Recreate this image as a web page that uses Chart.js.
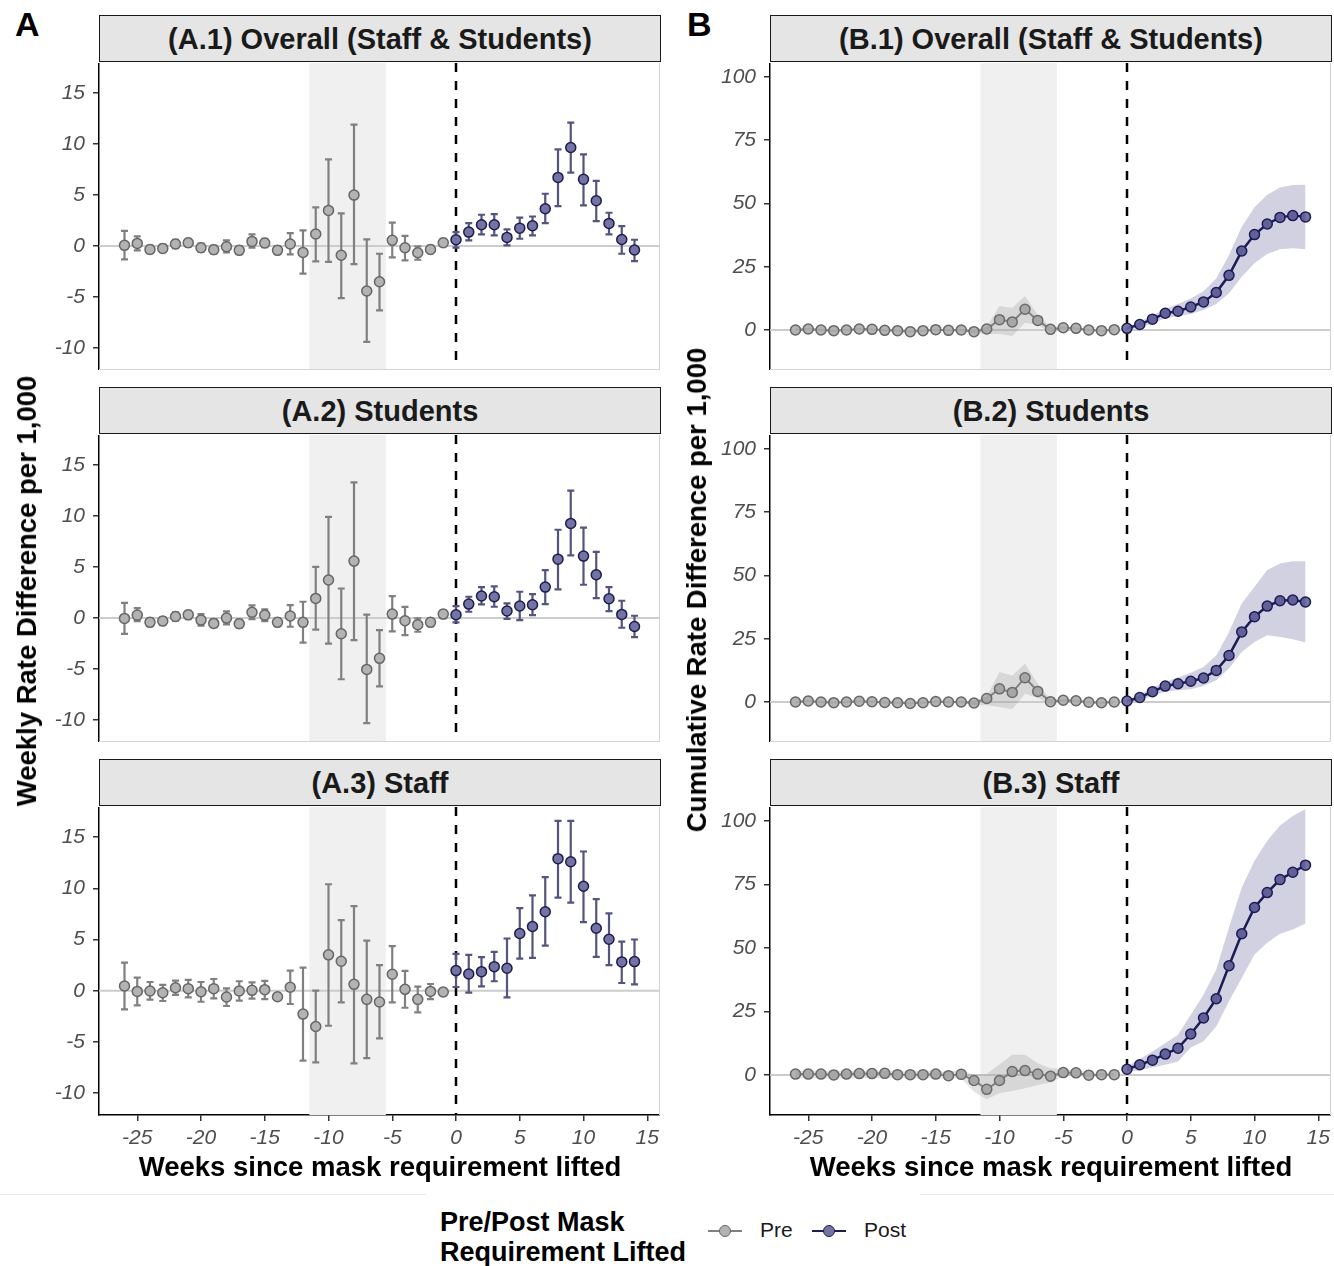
<!DOCTYPE html>
<html>
<head>
<meta charset="utf-8">
<script src="https://cdn.jsdelivr.net/npm/chart.js@4.4.1/dist/chart.umd.min.js"></script>
<style>
  body { margin: 0; background: #fff; font-family: "Liberation Sans", Arial, sans-serif; color: #000; }
  #fig { position: relative; width: 1334px; height: 1266px; overflow: hidden; background: #fff; }
  #fig canvas { position: absolute; }
  .txt { position: absolute; white-space: nowrap; }
  .strip { position: absolute; box-sizing: border-box; border: 1.5px solid #1a1a1a; background: #e5e5e5;
           font-weight: bold; font-size: 29px; text-align: center; line-height: 46px; color: #1a1a1a; }
  .letter { font-weight: bold; font-size: 34px; }
  .axtitle { font-weight: bold; font-size: 27.5px; transform: translate(-50%, -50%); }
  .ytitle { font-weight: bold; font-size: 27.5px; transform: translate(-50%, -50%) rotate(-90deg); }
  .key-line { position: absolute; height: 2px; width: 34px; }
  .key-dot { position: absolute; width: 10px; height: 10px; border-radius: 50%; box-sizing: content-box; }
</style>
</head>
<body>
<div id="fig"></div>
<script>
// weeks since the mask requirement was lifted (Pre = negative weeks, Post = 0 and later)
const weeks = [-26, -25, -24, -23, -22, -21, -20, -19, -18, -17, -16, -15, -14, -13, -12, -11, -10, -9, -8, -7, -6, -5, -4, -3, -2, -1,
               0, 1, 2, 3, 4, 5, 6, 7, 8, 9, 10, 11, 12, 13, 14];
const xTicks = [-25, -20, -15, -10, -5, 0, 5, 10, 15];
const weeklyTicks = [-10, -5, 0, 5, 10, 15];
const cumTicks = [0, 25, 50, 75, 100];
const shadeWeeks = [-11.5, -5.5];
const groupNames = ['Pre', 'Post'];

// (A) weekly rate difference per 1,000 : estimate, lower and upper CI
const a1Est = [0.07, 0.26, -0.33, -0.23, 0.2, 0.33, -0.16, -0.36, -0.07, -0.42, 0.46, 0.3, -0.42, 0.2, -0.62, 1.18, 3.5, -0.9, 5.0, -4.4, -3.5, 0.56, -0.16, -0.65, -0.33, 0.33,
               0.62, 1.37, 2.09, 2.09, 0.85, 1.76, 1.99, 3.66, 6.73, 9.67, 6.54, 4.44, 2.22, 0.65, -0.39];
const a1Lo = [-1.3, -0.42, -0.7, -0.6, -0.2, -0.05, -0.55, -0.75, -0.62, -0.8, -0.16, -0.1, -0.8, -0.82, -2.7, -1.5, -1.54, -5.1, -1.76, -9.4, -6.3, -1.1, -1.4, -1.34, -0.7, 0.0,
              -0.16, 0.56, 1.14, 1.05, 0.07, 0.72, 1.05, 2.25, 3.92, 7.2, 4.0, 2.45, 1.14, -0.75, -1.47];
const a1Hi = [1.5, 0.95, 0.05, 0.15, 0.6, 0.7, 0.25, 0.05, 0.56, 0.0, 1.14, 0.7, 0.0, 1.27, 1.54, 3.8, 8.5, 3.2, 11.9, 0.65, -0.75, 2.3, 1.0, -0.03, 0.05, 0.7,
              1.37, 2.25, 3.07, 3.14, 1.63, 2.78, 2.9, 5.13, 9.48, 12.1, 9.0, 6.4, 3.27, 1.96, 0.62];

const a2Est = [-0.03, 0.29, -0.42, -0.29, 0.16, 0.33, -0.2, -0.52, 0, -0.56, 0.56, 0.29, -0.42, 0.2, -0.42, 1.93, 3.73, -1.54, 5.59, -5.03, -3.95, 0.39, -0.26, -0.65, -0.42, 0.39,
               0.33, 1.37, 2.16, 2.09, 0.69, 1.18, 1.31, 3.04, 5.78, 9.28, 6.08, 4.25, 1.9, 0.36, -0.82];
const a2Lo = [-1.54, -0.29, -0.8, -0.7, -0.25, -0.1, -0.75, -0.9, -0.62, -0.95, -0.1, -0.29, -0.8, -0.85, -2.4, -1.14, -2.5, -6.0, -2.16, -10.3, -6.7, -1.3, -1.67, -1.34, -0.8, 0.0,
              -0.42, 0.62, 1.34, 1.11, -0.07, -0.2, 0.29, 1.37, 2.81, 6.14, 3.27, 1.96, 0.69, -0.95, -1.86];
const a2Hi = [1.5, 0.98, -0.05, 0.1, 0.55, 0.7, 0.39, -0.1, 0.65, -0.15, 1.24, 0.85, -0.05, 1.27, 1.6, 5.03, 9.93, 2.9, 13.3, 0.33, -1.18, 2.16, 1.1, -0.03, -0.05, 0.75,
              1.18, 2.09, 3.04, 3.1, 1.44, 2.58, 2.35, 4.7, 8.66, 12.5, 8.86, 6.5, 3.04, 1.7, 0.23];

const a3Est = [0.46, -0.07, -0.03, -0.2, 0.29, 0.2, -0.1, 0.2, -0.62, -0.03, 0.03, 0.1, -0.59, 0.33, -2.29, -3.5, 3.5, 2.88, 0.62, -0.85, -1.11, 1.6, 0.13, -0.85, -0.07, -0.13,
               1.96, 1.63, 1.86, 2.35, 2.19, 5.59, 6.27, 7.71, 12.9, 12.6, 10.2, 6.1, 5.03, 2.81, 2.84];
const a3Lo = [-1.83, -1.44, -0.88, -1.01, -0.42, -0.65, -1.08, -0.75, -1.5, -0.98, -0.78, -0.82, -0.9, -1.3, -6.83, -7.0, -3.43, -1.14, -7.1, -6.6, -4.67, -1.14, -1.67, -2.12, -0.82, -0.45,
              0.36, -0.2, 0.42, 0.92, -0.65, 3.14, 3.2, 4.4, 9.1, 8.6, 6.7, 3.3, 2.5, 0.75, 0.62];
const a3Hi = [2.75, 1.27, 0.85, 0.56, 0.98, 1.05, 0.85, 1.14, 0.23, 0.92, 0.82, 0.95, -0.25, 1.96, 2.25, 0.0, 10.4, 6.9, 8.27, 4.9, 2.5, 4.35, 1.93, 0.39, 0.65, 0.2,
              3.6, 3.5, 3.27, 3.8, 5.1, 8.07, 9.31, 11.1, 16.6, 16.6, 13.6, 8.95, 7.55, 4.8, 5.0];

// (B) cumulative rate difference per 1,000 : estimate, lower and upper band
const b1Est = [0, 0.4, 0, -0.26, 0, 0.4, 0.26, -0.13, -0.26, -0.66, -0.26, 0.13, -0.13, 0, -0.66, 0.4, 4.1, 3.2, 8.2, 3.8, 0.26, 0.9, 0.66, 0, -0.26, 0.13,
               0.66, 2.2, 4.3, 6.6, 7.4, 9.1, 11.1, 14.8, 21.6, 31.2, 37.7, 41.9, 44.5, 45.2, 44.7];
const b1Lo = [-0.4, 0, -0.4, -0.6, -0.4, 0, -0.1, -0.5, -0.6, -1.0, -0.6, -0.3, -0.5, -0.4, -1.3, -1.6, -1.6, -2.4, 2.9, 2.0, -0.8, 0.4, 0.2, -0.4, -0.6, -0.3,
              0, 1.0, 2.6, 4.6, 5.5, 6.3, 7.9, 10.3, 14.5, 21.0, 26.4, 30.0, 31.9, 32.3, 31.9];
const b1Hi = [0.4, 0.8, 0.4, 0.1, 0.4, 0.8, 0.6, 0.3, 0.1, -0.3, 0.1, 0.5, 0.3, 0.4, 0.1, 1.3, 9.5, 8.8, 13.4, 5.9, 1.2, 1.4, 1.1, 0.4, 0.1, 0.5,
              1.3, 3.3, 5.7, 8.3, 10.3, 12.5, 15.3, 20.4, 29.6, 40.8, 48.5, 53.4, 56.3, 57.3, 57.4];

const b2Est = [0, 0.4, 0, -0.26, 0, 0.3, 0.1, -0.2, -0.3, -0.6, -0.3, 0.2, 0, 0, -0.4, 1.4, 5.2, 3.8, 9.6, 4.2, 0.13, 0.7, 0.5, -0.1, -0.3, 0,
               0.4, 1.8, 4.1, 6.3, 7.2, 8.2, 9.5, 12.5, 18.4, 27.7, 33.7, 37.9, 40, 40.3, 39.5];
const b2Lo = [-0.4, 0, -0.4, -0.6, -0.4, -0.1, -0.3, -0.6, -0.7, -1.0, -0.7, -0.2, -0.4, -0.4, -1.2, -1.3, -2.0, -2.9, 3.3, 1.6, -0.8, 0.2, 0.1, -0.5, -0.7, -0.4,
              0, 0.66, 2.4, 4.2, 4.6, 5.0, 6.3, 8.6, 13.2, 19.8, 23.7, 26.4, 25.7, 24.8, 23.5];
const b2Hi = [0.4, 0.8, 0.4, 0.1, 0.4, 0.7, 0.5, 0.2, 0.1, -0.2, 0.1, 0.6, 0.4, 0.4, 0.4, 2.2, 11.9, 10.5, 15.1, 7.2, 1.0, 1.2, 0.9, 0.3, 0.1, 0.4,
              0.8, 2.9, 5.7, 7.9, 9.7, 11.6, 13.8, 18.4, 27.7, 38.9, 45.5, 52.2, 54.7, 55.6, 55.6];

const b3Est = [0.3, 0.3, 0.3, 0, 0.3, 0.5, 0.5, 0.6, 0.1, 0.1, 0.1, 0.3, -0.3, 0.2, -2.2, -5.7, -2.2, 1.3, 1.7, 0.3, -0.5, 0.9, 0.8, -0.1, 0.1, 0.1,
               2.2, 4.0, 5.8, 8.2, 10.5, 16.1, 22.4, 30.0, 43.0, 55.6, 65.9, 71.8, 76.9, 79.8, 82.6];
const b3Lo = [-1.3, -1.3, -1.3, -1.3, -1.3, -1.2, -1.2, -1.2, -1.3, -1.3, -1.3, -1.3, -1.4, -1.3, -6.6, -9.6, -7.2, -6.3, -5.3, -4.0, -3.0, -0.3, -0.4, -0.8, -0.6, -0.5,
              1.3, 1.8, 2.9, 4.0, 5.3, 10.8, 13.2, 19.1, 29.0, 38.2, 47.4, 52.0, 55.6, 57.3, 59.6];
const b3Hi = [1.5, 1.5, 1.5, 1.5, 1.5, 1.6, 1.6, 1.7, 1.5, 1.5, 1.5, 1.5, 1.2, 2.0, 0, 0.3, 4.2, 7.9, 7.9, 4.6, 2.6, 2.2, 2.0, 0.8, 0.8, 0.8,
              3.3, 6.3, 9.2, 12.5, 15.8, 23.7, 31.6, 41.5, 58.0, 73.8, 84.3, 92.2, 98.2, 102, 104.7];

const PRE = { fill: '#b3b3b3', stroke: '#666666', bar: '#808080', line: '#808080', band: 'rgba(128,128,128,0.22)' };
const POST = { fill: '#7474a3', stroke: '#1c1c52', bar: '#54547f', line: '#1c1c52', band: 'rgba(25,25,112,0.2)' };

Chart.defaults.font.family = '"Liberation Sans", Arial, sans-serif';

const fig = document.getElementById('fig');
const AXIS_W = 60, XAXIS_H = 40, PLOT_W = 561;
const colLeft = [99, 770];
const rows = [{ top: 63, h: 307 }, { top: 435, h: 307 }, { top: 807, h: 308 }];

const panels = [
  { col: 0, row: 0, title: '(A.1) Overall (Staff & Students)', est: a1Est, lo: a1Lo, hi: a1Hi, cum: false },
  { col: 0, row: 1, title: '(A.2) Students', est: a2Est, lo: a2Lo, hi: a2Hi, cum: false },
  { col: 0, row: 2, title: '(A.3) Staff', est: a3Est, lo: a3Lo, hi: a3Hi, cum: false },
  { col: 1, row: 0, title: '(B.1) Overall (Staff & Students)', est: b1Est, lo: b1Lo, hi: b1Hi, cum: true },
  { col: 1, row: 1, title: '(B.2) Students', est: b2Est, lo: b2Lo, hi: b2Hi, cum: true },
  { col: 1, row: 2, title: '(B.3) Staff', est: b3Est, lo: b3Lo, hi: b3Hi, cum: true }
];

function addText(text, cls, left, top) {
  const d = document.createElement('div');
  d.className = 'txt ' + cls;
  d.style.left = left + 'px';
  d.style.top = top + 'px';
  d.textContent = text;
  fig.appendChild(d);
  return d;
}

// shaded weeks, zero line, dashed line at 0 and (for A) error bars
const panelDecor = {
  id: 'panelDecor',
  beforeDatasetsDraw(chart, args, opts) {
    const { ctx, chartArea: a, scales: { x, y } } = chart;
    ctx.save();
    ctx.beginPath();
    ctx.rect(a.left, a.top, a.right - a.left, a.bottom - a.top);
    ctx.clip();

    const s1 = x.getPixelForValue(shadeWeeks[0]), s2 = x.getPixelForValue(shadeWeeks[1]);
    ctx.fillStyle = '#f0f0f0';
    ctx.fillRect(s1, a.top, s2 - s1, a.bottom - a.top);

    const y0 = y.getPixelForValue(0);
    ctx.strokeStyle = '#cccccc';
    ctx.lineWidth = 2;
    ctx.beginPath(); ctx.moveTo(a.left, y0); ctx.lineTo(a.right, y0); ctx.stroke();

    const x0 = x.getPixelForValue(0);
    ctx.strokeStyle = '#000';
    ctx.lineWidth = 2.5;
    ctx.setLineDash([9, 9]);
    ctx.beginPath(); ctx.moveTo(x0, a.top); ctx.lineTo(x0, a.bottom); ctx.stroke();
    ctx.setLineDash([]);

    if (opts.bars) {
      ctx.lineWidth = 2.2;
      weeks.forEach((w, i) => {
        const px = x.getPixelForValue(w);
        const pl = y.getPixelForValue(opts.lo[i]), ph = y.getPixelForValue(opts.hi[i]);
        ctx.strokeStyle = w < 0 ? PRE.bar : POST.bar;
        ctx.beginPath();
        ctx.moveTo(px, pl); ctx.lineTo(px, ph);
        ctx.moveTo(px - 3.5, pl); ctx.lineTo(px + 3.5, pl);
        ctx.moveTo(px - 3.5, ph); ctx.lineTo(px + 3.5, ph);
        ctx.stroke();
      });
    }
    ctx.restore();
  },
  afterDraw(chart, args, opts) {
    const { ctx, chartArea: a } = chart;
    ctx.save();
    ctx.strokeStyle = '#d4d4d4';
    ctx.lineWidth = 1;
    ctx.beginPath();
    ctx.moveTo(a.right - 0.5, a.top); ctx.lineTo(a.right - 0.5, a.bottom);
    if (!opts.bottomRow) { ctx.moveTo(a.left, a.bottom - 0.5); ctx.lineTo(a.right, a.bottom - 0.5); }
    ctx.stroke();
    ctx.restore();
  }
};

function points(arr, pre) {
  const out = [];
  weeks.forEach((w, i) => { if ((w < 0) === pre) out.push({ x: w, y: arr[i] }); });
  return out;
}

function makePanel(p) {
  const row = rows[p.row];
  const bottomRow = p.row === 2;
  const w = AXIS_W + PLOT_W, h = row.h + (bottomRow ? XAXIS_H : 0);
  const cv = document.createElement('canvas');
  cv.width = w; cv.height = h;
  cv.style.left = (colLeft[p.col] - AXIS_W) + 'px';
  cv.style.top = row.top + 'px';
  cv.style.width = w + 'px'; cv.style.height = h + 'px';
  fig.appendChild(cv);

  const strip = document.createElement('div');
  strip.className = 'strip';
  strip.style.left = colLeft[p.col] + 'px';
  strip.style.top = (row.top - 48) + 'px';
  strip.style.width = (PLOT_W + 1) + 'px';
  strip.style.height = '47px';
  strip.textContent = p.title;
  fig.appendChild(strip);

  const marker = (c) => ({
    pointRadius: 5, pointBorderWidth: 1.5, pointBackgroundColor: c.fill, pointBorderColor: c.stroke
  });

  const datasets = [];
  if (p.cum) {
    [true, false].forEach(pre => {
      const c = pre ? PRE : POST;
      datasets.push({ data: points(p.lo, pre), pointRadius: 0, borderWidth: 0, borderColor: 'transparent', fill: false });
      datasets.push({ data: points(p.hi, pre), pointRadius: 0, borderWidth: 0, borderColor: 'transparent', fill: '-1', backgroundColor: c.band });
    });
  }
  [true, false].forEach(pre => {
    const c = pre ? PRE : POST;
    datasets.push(Object.assign({
      label: pre ? groupNames[0] : groupNames[1],
      data: points(p.est, pre),
      showLine: p.cum,
      borderColor: c.line,
      borderWidth: pre ? 2 : 2.5,
      fill: false
    }, marker(c)));
  });

  const ticks = p.cum ? cumTicks : weeklyTicks;
  new Chart(cv, {
    type: 'line',
    data: { datasets },
    options: {
      responsive: false,
      animation: false,
      layout: { padding: 0, autoPadding: false },
      elements: { line: { tension: 0 } },
      plugins: {
        legend: { display: false },
        tooltip: { enabled: false },
        panelDecor: { bars: !p.cum, lo: p.lo, hi: p.hi, bottomRow }
      },
      scales: {
        x: {
          type: 'linear', min: -28, max: 16, display: bottomRow,
          afterBuildTicks: s => { s.ticks = xTicks.map(v => ({ value: v })); },
          afterFit: s => { s.height = bottomRow ? XAXIS_H : 0; s.paddingLeft = 0; s.paddingRight = 0; },
          grid: { display: true, drawOnChartArea: false, drawTicks: true, tickLength: 6, color: '#333', lineWidth: 1.5 },
          border: { display: true, color: '#000', width: 1.5 },
          ticks: { color: '#4d4d4d', font: { size: 21, style: 'italic' }, padding: 5, maxRotation: 0, autoSkip: false,
                   callback: v => String(v) }
        },
        y: {
          type: 'linear',
          min: p.cum ? -15.8 : -12.15,
          max: p.cum ? 105.5 : 17.95,
          afterBuildTicks: s => { s.ticks = ticks.map(v => ({ value: v })); },
          afterFit: s => { s.width = AXIS_W; s.paddingTop = 0; s.paddingBottom = 0; },
          grid: { display: true, drawOnChartArea: false, drawTicks: true, tickLength: 6, color: '#333', lineWidth: 1.5 },
          border: { display: true, color: '#000', width: 1.5 },
          ticks: { color: '#4d4d4d', font: { size: 21, style: 'italic' }, padding: 8, callback: v => String(v) }
        }
      }
    },
    plugins: [panelDecor]
  });
}

panels.forEach(makePanel);

// panel letters and axis titles
addText('A', 'letter', 15, 5);
addText('B', 'letter', 687, 5);
addText('Weeks since mask requirement lifted', 'axtitle', 380, 1167);
addText('Weeks since mask requirement lifted', 'axtitle', 1051, 1167);
addText('Weekly Rate Difference per 1,000', 'ytitle', 27, 591);
addText('Cumulative Rate Difference per 1,000', 'ytitle', 697, 590);

// legend
const sep = document.createElement('div');
sep.style.cssText = 'position:absolute;left:0;top:1194px;width:1334px;height:1px;background:#e8e8e8';
fig.appendChild(sep);
const lbox = document.createElement('div');
lbox.style.cssText = 'position:absolute;left:426px;top:1190px;width:494px;height:76px;background:#fff';
fig.appendChild(lbox);
const lt = addText('', '', 440, 1207);
lt.style.cssText += 'font-weight:bold;font-size:27px;line-height:30px;';
lt.innerHTML = 'Pre/Post Mask<br>Requirement Lifted';

[[groupNames[0], PRE, 708], [groupNames[1], POST, 812]].forEach(([name, c, x]) => {
  const ln = document.createElement('div');
  ln.className = 'key-line';
  ln.style.left = x + 'px'; ln.style.top = '1230px'; ln.style.background = c.line;
  fig.appendChild(ln);
  const dot = document.createElement('div');
  dot.className = 'key-dot';
  dot.style.left = (x + 11) + 'px'; dot.style.top = '1225px';
  dot.style.background = c.fill; dot.style.border = '1.5px solid ' + c.stroke;
  fig.appendChild(dot);
  const t = addText(name, '', x + 52, 1218);
  t.style.fontSize = '21px';
  t.style.color = '#1a1a1a';
});
</script>
</body>
</html>
